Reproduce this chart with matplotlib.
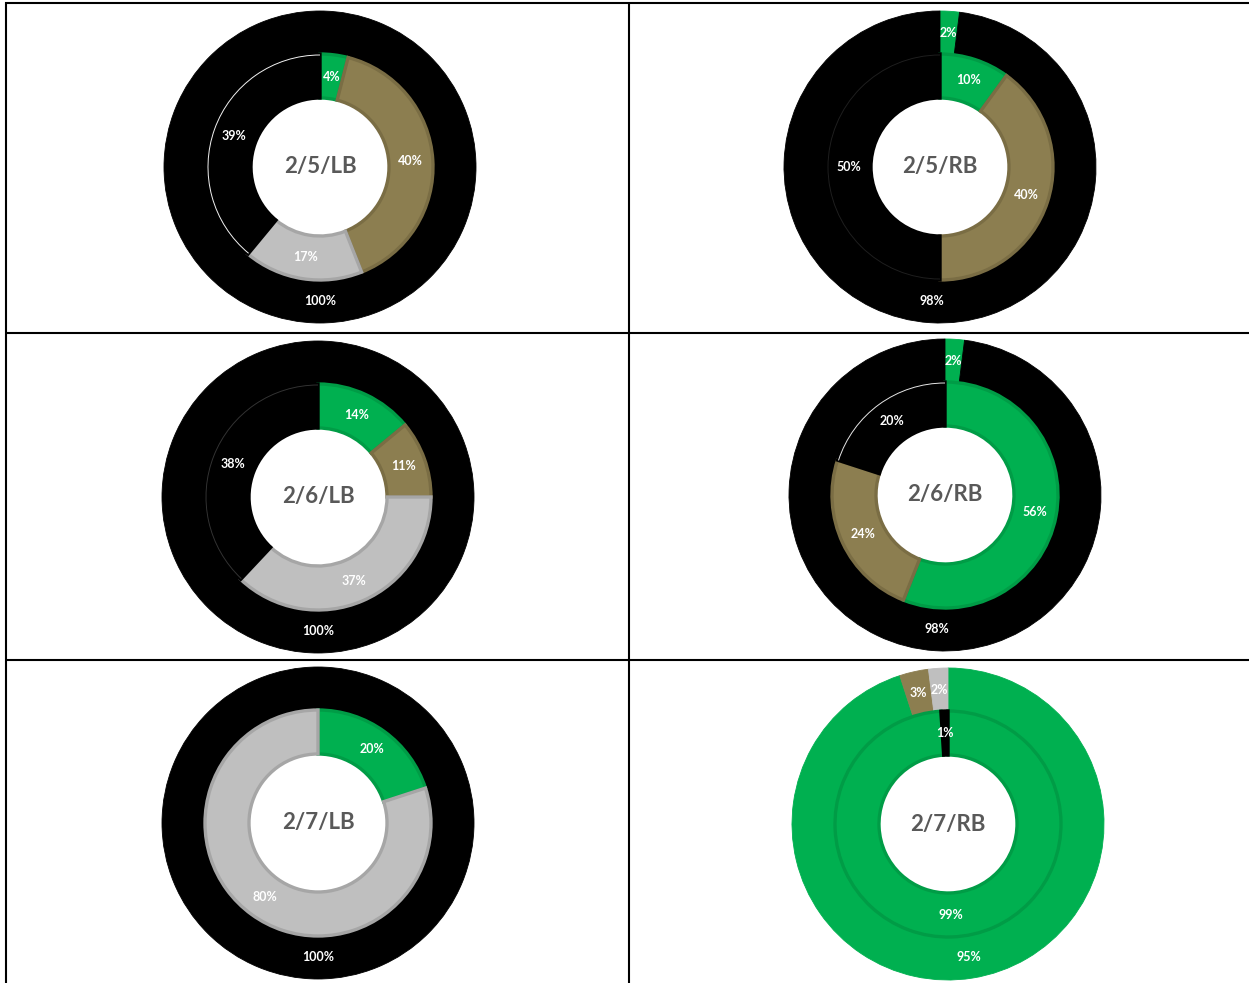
import matplotlib
matplotlib.use("Agg")
import matplotlib.pyplot as plt
from matplotlib.patches import Arc
from matplotlib.lines import Line2D

# ---------------- data ----------------
titles = ["2/5/LB", "2/5/RB", "2/6/LB", "2/6/RB", "2/7/LB", "2/7/RB"]
# series order for every ring: green, khaki, gray, black
series_colors = ["#00B050", "#8C7E50", "#BFBFBF", "#000000"]
series_edges = ["#009C46", "#7A6D44", "#A6A6A6", "#000000"]

outer_vals = [
    [0, 0, 0, 100],
    [2, 0, 0, 98],
    [0, 0, 0, 100],
    [2, 0, 0, 98],
    [0, 0, 0, 100],
    [95, 3, 2, 0],
]
inner_vals = [
    [4, 40, 17, 39],
    [10, 40, 0, 50],
    [14, 11, 37, 38],
    [56, 24, 0, 20],
    [20, 0, 80, 0],
    [99, 0, 0, 1],
]

# ---------------- layout ----------------
W, H = 1249, 983
centers_px = [(320, 167), (940, 167), (318, 497), (945, 495), (318, 823), (948, 824)]
R_OUT = 156
R_MID = 113
R_HOLE = 69
white_arc_alpha = [0.95, 0.12, 0.2, 0.9, 0.0, 0.0]

fig = plt.figure(figsize=(W / 100, H / 100), dpi=100)
ax = fig.add_axes([0, 0, 1, 1])

lab_font = dict(family="Lato", fontsize=9, fontweight="bold", color="white")


def pct_fmt(p):
    return f"{p:.0f}%"


for i, title in enumerate(titles):
    cx, cy_px = centers_px[i]
    c = (cx, H - cy_px)

    # outer ring
    ov = [v for v in outer_vals[i] if v > 0]
    oc = [series_colors[k] for k, v in enumerate(outer_vals[i]) if v > 0]
    oe = [series_edges[k] for k, v in enumerate(outer_vals[i]) if v > 0]
    wedges, _, autotexts = ax.pie(
        ov, colors=oc, radius=R_OUT, center=c, startangle=90, counterclock=False,
        wedgeprops=dict(width=R_OUT - R_MID, linewidth=0.6),
        autopct=pct_fmt, pctdistance=(R_OUT + R_MID) / 2 / R_OUT,
        textprops=lab_font, frame=True,
    )
    for w, col in zip(wedges, oc):
        w.set_edgecolor(col)

    # inner ring
    iv = [v for v in inner_vals[i] if v > 0]
    ic = [series_colors[k] for k, v in enumerate(inner_vals[i]) if v > 0]
    ie = [series_edges[k] for k, v in enumerate(inner_vals[i]) if v > 0]
    ik = [k for k, v in enumerate(inner_vals[i]) if v > 0]
    wedges, _, autotexts = ax.pie(
        iv, colors=ic, radius=R_MID, center=c, startangle=90, counterclock=False,
        wedgeprops=dict(width=R_MID - R_HOLE, linewidth=2.4),
        autopct=pct_fmt, pctdistance=(R_MID + R_HOLE) / 2 / R_MID,
        textprops=lab_font, frame=True,
    )
    for w, e in zip(wedges, ie):
        w.set_edgecolor(e)
    for t in autotexts:
        t.set_zorder(5)

    # thin white outline along the outer edge of black inner segments
    total = sum(iv)
    cum = 0.0
    for v, k in zip(iv, ik):
        a1 = cum / total * 360.0
        a2 = (cum + v) / total * 360.0
        cum += v
        if k == 3 and white_arc_alpha[i] > 0:
            ax.add_patch(Arc(c, 2 * (R_MID - 1), 2 * (R_MID - 1),
                             theta1=90 - a2, theta2=90 - a1,
                             color="white", lw=0.7, alpha=white_arc_alpha[i], zorder=4))

    ax.text(c[0], c[1], title, ha="center", va="center", family="Lato",
            fontsize=16, fontweight="bold", color="#595959", zorder=6)

# table grid lines
grid_kw = dict(color="black", lw=1.5, solid_capstyle="butt", zorder=10)
ax.add_line(Line2D([6, 6], [H - 2, 0], **grid_kw))
ax.add_line(Line2D([629.5, 629.5], [H - 2, 0], **grid_kw))
for ypx in (3, 333, 659.5):
    ax.add_line(Line2D([5, W], [H - ypx, H - ypx], **grid_kw))

ax.set_xlim(0, W)
ax.set_ylim(0, H)
ax.set_aspect("equal")
ax.axis("off")
fig.savefig("out.png", dpi=100, facecolor="white")
